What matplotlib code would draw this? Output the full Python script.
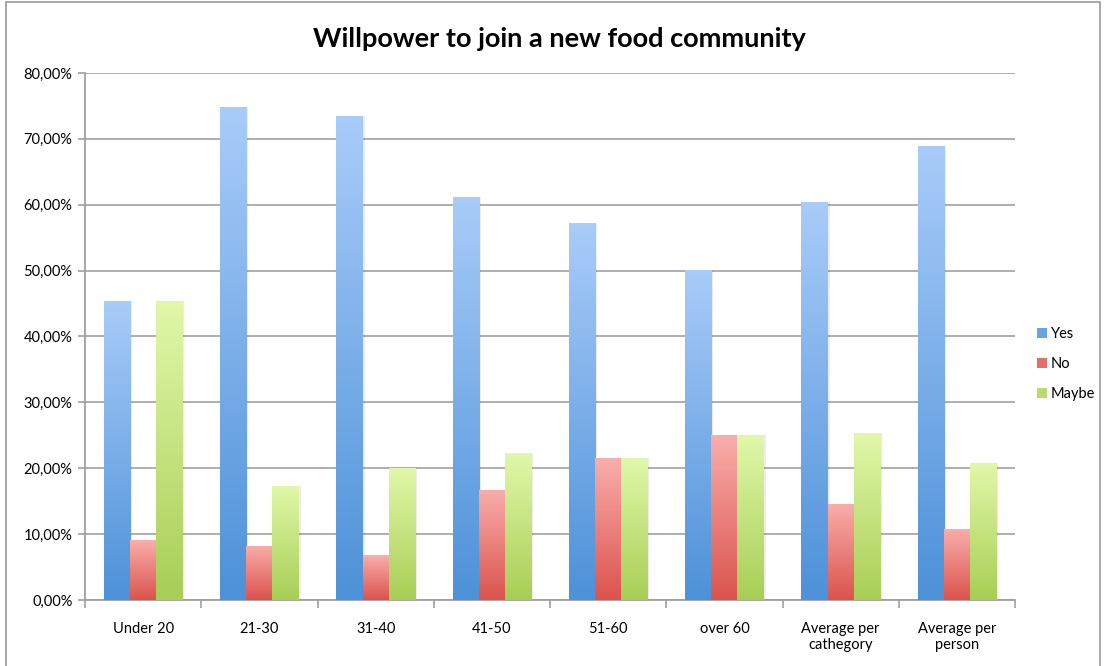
import numpy as np
import matplotlib.pyplot as plt
from matplotlib.colors import LinearSegmentedColormap
from matplotlib.patches import Rectangle, Patch
from matplotlib.ticker import FuncFormatter

plt.rcParams['font.family'] = ['Lato', 'DejaVu Sans']

categories = ['Under 20', '21-30', '31-40', '41-50', '51-60', 'over 60',
              'Average per\ncathegory', 'Average per\nperson']
yes = [45.45, 74.8, 73.4, 61.2, 57.2, 50.1, 60.4, 68.9]
no = [9.09, 8.2, 6.8, 16.7, 21.5, 25.0, 14.6, 10.8]
maybe = [45.45, 17.3, 20.0, 22.3, 21.5, 25.0, 25.3, 20.8]

series = [('Yes', yes, '#a9ccf9', '#4d91d8'),
          ('No', no, '#f9aeac', '#db534d'),
          ('Maybe', maybe, '#e1f8a9', '#a8ce55')]

fig = plt.figure(figsize=(11.04, 6.66), dpi=100)
ax = fig.add_axes([0.077, 0.0991, 0.8424, 0.7913])

# frame around the whole chart
fig.patches.append(Rectangle((6 / 1104, -0.01), 1094 / 1104, 1 - 2 / 666 + 0.01,
                             transform=fig.transFigure, fill=False,
                             edgecolor='#9a9a9a', linewidth=1.2))

x = np.arange(len(categories))
w = 0.225
grad = np.linspace(0, 1, 256).reshape(-1, 1)

handles = []
for i, (name, vals, top, bottom) in enumerate(series):
    cmap = LinearSegmentedColormap.from_list(name, [bottom, top])
    pos = x + (i - 1) * w
    # soft shadow to the right of each bar
    ax.bar(pos + 0.018, vals, w, color='#000000', alpha=0.07, zorder=2)
    bars = ax.bar(pos, vals, w, color='none', zorder=3)
    for b in bars:
        bx, by = b.get_x(), b.get_y()
        bw, bh = b.get_width(), b.get_height()
        im = ax.imshow(grad, cmap=cmap, aspect='auto', origin='lower',
                       extent=(bx, bx + bw, by, by + bh), zorder=3)
        im.set_clip_path(b)
    handles.append(Patch(facecolor=cmap(0.3), edgecolor='none', label=name))

ax.set_xlim(-0.5, len(categories) - 0.5)
ax.set_ylim(0, 80)
ax.set_yticks(np.arange(0, 81, 10))
ax.yaxis.set_major_formatter(FuncFormatter(lambda v, p: f'{v:.2f}%'.replace('.', ',')))
ax.grid(axis='y', color='#a8a8a8', linewidth=1.3, zorder=0)
ax.set_axisbelow(True)

ax.set_xticks(np.arange(len(categories) + 1) - 0.5)
ax.set_xticklabels([])
ax.set_xticks(x, minor=True)
ax.set_xticklabels(categories, minor=True, fontsize=10.5)
ax.tick_params(axis='x', which='major', length=6, color='#a0a0a0', width=1.2)
ax.tick_params(axis='x', which='minor', length=0, pad=16)
ax.tick_params(axis='y', length=5, color='#a0a0a0', width=1.2, labelsize=10.5, pad=4)

for s in ['top', 'right']:
    ax.spines[s].set_visible(False)
for s in ['left', 'bottom']:
    ax.spines[s].set_color('#a0a0a0')
    ax.spines[s].set_linewidth(1.3)

fig.text(0.507, 0.942, 'Willpower to join a new food community', ha='center', va='center',
         fontsize=19.5, fontweight='bold')

fig.legend(handles=handles, loc='center left', bbox_to_anchor=(0.927, 0.453),
           frameon=False, fontsize=10.5, handlelength=0.7, handleheight=0.7,
           handletextpad=0.3, labelspacing=1.1)

fig.savefig('out.png', dpi=100)
